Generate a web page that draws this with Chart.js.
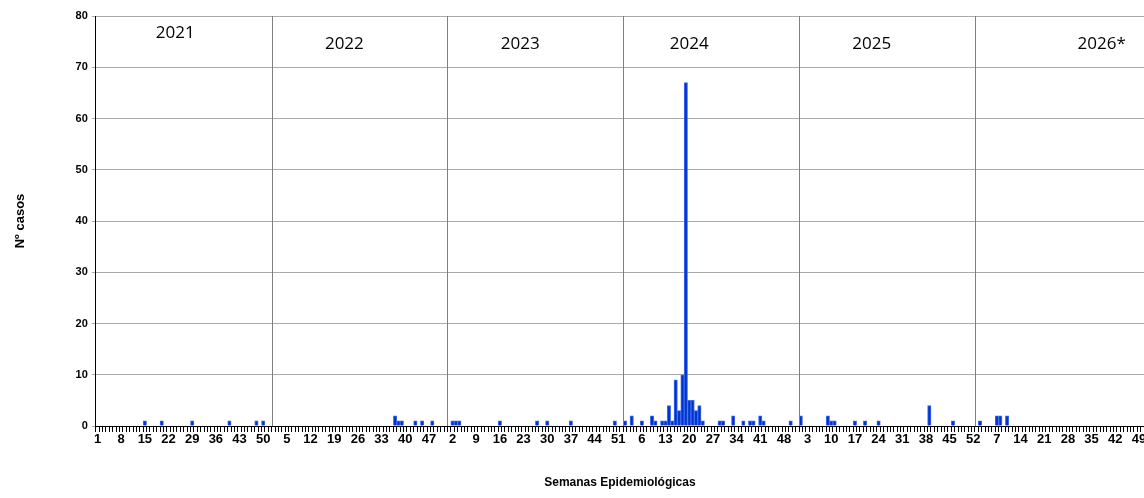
<!DOCTYPE html>
<html>
<head>
<meta charset="utf-8">
<script src="https://cdn.jsdelivr.net/npm/chart.js@4.4.1/dist/chart.umd.min.js"></script>
<style>
  html, body { margin: 0; padding: 0; background: #fff; }
  #wrap { width: 1144px; height: 498px; position: relative; }
</style>
</head>
<body>
<div id="wrap"><canvas id="chart"></canvas></div>
<script>
// Years and week counts shown on the axis
const years = ['2021', '2022', '2023', '2024', '2025', '2026*'];
const weeksPerYear = [52, 52, 52, 52, 52, 50];
const yearLabelWeek = [24, 22, 22, 20, 22, 38];

// Weeks with cases and number of cases, per year
const weeks2021 = [15, 20, 29, 40, 48, 50];
const counts2021 = [1, 1, 1, 1, 1, 1];
const weeks2022 = [37, 38, 39, 43, 45, 48];
const counts2022 = [2, 1, 1, 1, 1, 1];
const weeks2023 = [2, 3, 4, 16, 27, 30, 37, 50];
const counts2023 = [1, 1, 1, 1, 1, 1, 1, 1];
const weeks2024 = [1, 3, 6, 9, 10, 12, 13, 14, 15, 16, 17, 18, 19, 20, 21, 22, 23, 24, 29, 30, 33, 36, 38, 39, 41, 42, 50];
const counts2024 = [1, 2, 1, 2, 1, 1, 1, 4, 1, 9, 3, 10, 67, 5, 5, 3, 4, 1, 1, 1, 2, 1, 1, 1, 2, 1, 1];
const weeks2025 = [1, 9, 10, 11, 17, 20, 24, 39, 46];
const counts2025 = [2, 2, 1, 1, 1, 1, 1, 4, 1];
const weeks2026 = [2, 7, 8, 10];
const counts2026 = [1, 2, 2, 2];

const yTicks = [0, 10, 20, 30, 40, 50, 60, 70, 80];

const allWeeks = [weeks2021, weeks2022, weeks2023, weeks2024, weeks2025, weeks2026];
const allCounts = [counts2021, counts2022, counts2023, counts2024, counts2025, counts2026];

const labels = [];
const values = [];
const yearStart = [];
weeksPerYear.forEach((n, y) => {
    yearStart.push(labels.length);
    for (let w = 1; w <= n; w++) {
        labels.push(String(w));
        const k = allWeeks[y].indexOf(w);
        values.push(k >= 0 ? allCounts[y][k] : 0);
    }
});

const yearPlugin = {
    id: 'years',
    afterDatasetsDraw(chart) {
        const { ctx, chartArea, scales } = chart;
        const x = scales.x;
        ctx.save();
        ctx.strokeStyle = '#808080';
        ctx.lineWidth = 1;
        yearStart.forEach((s, i) => {
            if (i === 0) return;
            const px = Math.round((x.getPixelForValue(s - 1) + x.getPixelForValue(s)) / 2) + 0.5;
            ctx.beginPath();
            ctx.moveTo(px, chartArea.top);
            ctx.lineTo(px, chartArea.bottom);
            ctx.stroke();
        });
        ctx.fillStyle = '#000';
        ctx.font = '17px "Open Sans", "Noto Sans", sans-serif';
        ctx.textAlign = 'center';
        ctx.textBaseline = 'middle';
        years.forEach((yr, i) => {
            const px = x.getPixelForValue(yearStart[i] + yearLabelWeek[i] - 1);
            ctx.fillText(yr, px, i === 0 ? 33 : 44);
        });
        ctx.restore();
    }
};

new Chart(document.getElementById('chart'), {
    type: 'bar',
    data: {
        labels: labels,
        datasets: [{
            data: values,
            backgroundColor: '#0033cc',
            borderColor: '#3d6bef',
            borderWidth: 1,
            barPercentage: 1,
            categoryPercentage: 1
        }]
    },
    options: {
        responsive: true,
        maintainAspectRatio: false,
        animation: false,
        layout: { padding: { top: 16, right: 0, left: 9, bottom: 4 } },
        plugins: {
            legend: { display: false },
            tooltip: { enabled: false }
        },
        scales: {
            x: {
                border: { color: '#000', width: 1 },
                grid: { display: true, drawOnChartArea: false, drawTicks: true, tickLength: 6, color: '#000' },
                ticks: {
                    autoSkip: false,
                    maxRotation: 0,
                    minRotation: 0,
                    padding: 0,
                    color: '#000',
                    font: { family: 'Arial, "Liberation Sans", sans-serif', size: 13, weight: 'bold' },
                    callback: (v, i) => (i % 7 === 0 ? labels[i] : '')
                },
                title: {
                    display: true,
                    text: 'Semanas Epidemiológicas',
                    color: '#000',
                    padding: { top: 28 },
                    font: { family: 'Arial, "Liberation Sans", sans-serif', size: 12, weight: 'bold' }
                }
            },
            y: {
                min: 0,
                max: 80,
                afterBuildTicks: (s) => { s.ticks = yTicks.map(v => ({ value: v })); },
                border: { color: '#000', width: 1 },
                grid: { color: '#aaa', borderDash: [1, 1], drawTicks: true, tickLength: 4 },
                ticks: {
                    color: '#000',
                    padding: 4,
                    font: { family: 'Arial, "Liberation Sans", sans-serif', size: 11, weight: 'bold' }
                },
                title: {
                    display: true,
                    text: 'Nº casos',
                    color: '#000',
                    padding: { bottom: 43 },
                    font: { family: 'Arial, "Liberation Sans", sans-serif', size: 13, weight: 'bold' }
                }
            }
        }
    },
    plugins: [yearPlugin]
});
</script>
</body>
</html>
